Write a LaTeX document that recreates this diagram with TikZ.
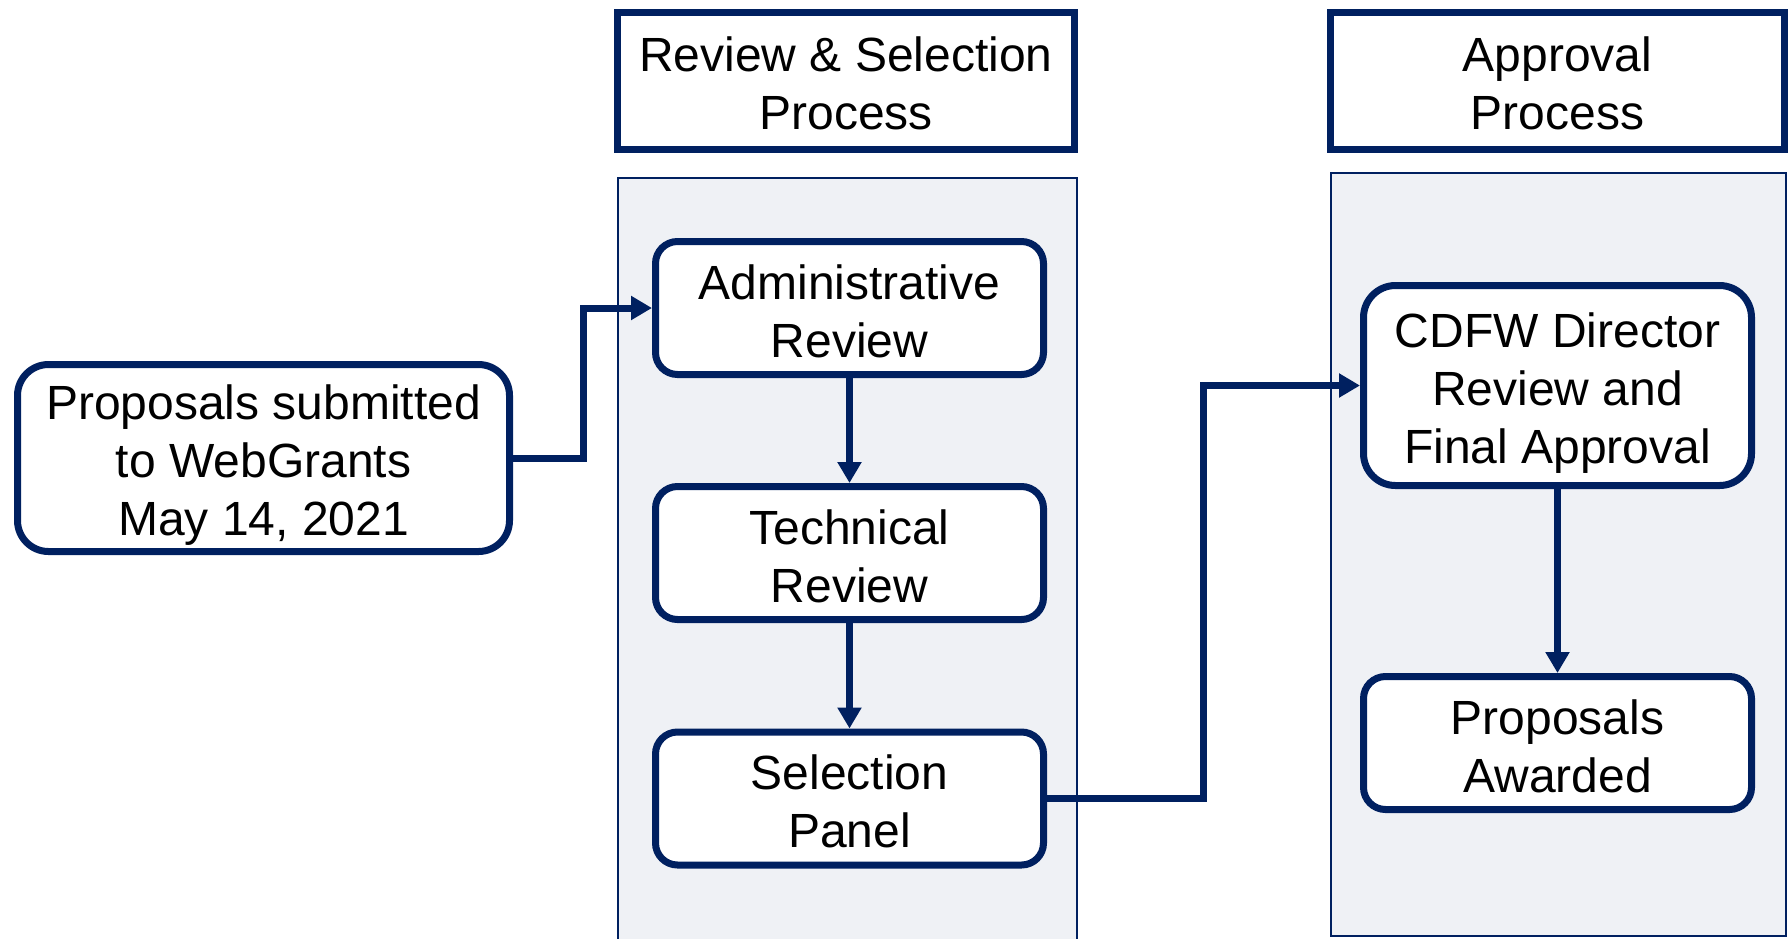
\documentclass[tikz,border=0pt]{standalone}
\usepackage{fontspec}
\setmainfont{Liberation Sans}
\usetikzlibrary{arrows.meta}
\definecolor{navy}{RGB}{0,32,96}
\definecolor{lanefill}{RGB}{239,241,245}
\newcommand{\tstrutx}[1]{\rule{0pt}{#1}}
\begin{document}
\begin{tikzpicture}[x=1pt,y=-1pt,
  every node/.style={font=\fontsize{48}{58}\selectfont, align=center, inner sep=0pt},
  hdr/.style={draw=navy, line width=7pt, fill=white, rectangle},
  lane/.style={draw=navy, line width=2.2pt, fill=lanefill},
  stepbox/.style={draw=navy, line width=7pt, fill=white, rectangle, rounded corners=22pt,
                  minimum width=388pt, minimum height=133pt},
  conn/.style={draw=navy, line width=7pt, -{Triangle[length=21pt,width=23pt]}}
]
\useasboundingbox (0,0) rectangle (1790,938);
% lanes
\draw[lane] (618,178) -- (618,960) -- (1077,960) -- (1077,178) -- cycle;
\draw[lane] (1331,173) rectangle (1786,936);
% headers
\node[hdr, minimum width=457pt, minimum height=137pt] (h1) at (846,81) {\tstrutx{39pt}Review \& Selection\\Process};
\node[hdr, minimum width=454pt, minimum height=137pt] (h2) at (1557.5,81) {\tstrutx{39pt}Approval\\Process};
% nodes
\node[stepbox, minimum width=492pt, minimum height=187pt, rounded corners=31pt] (prop) at (263.5,458) {\tstrutx{49pt}Proposals submitted\\to WebGrants\\May 14, 2021};
\node[stepbox] (admin) at (849.5,308) {\tstrutx{41pt}Administrative\\Review};
\node[stepbox] (tech) at (849.5,553) {\tstrutx{41pt}Technical\\Review};
\node[stepbox] (sel) at (849.5,798.5) {\tstrutx{41pt}Selection\\Panel};
\node[stepbox, minimum height=200pt, rounded corners=32pt] (cdfw) at (1557.5,385.5) {\tstrutx{49pt}CDFW Director\\Review and\\Final Approval};
\node[stepbox] (award) at (1557.5,743) {\tstrutx{41pt}Proposals\\Awarded};
% connectors
\coordinate (j1) at (583,0);
\coordinate (j2) at (1203,0);
\draw[conn] (prop.east) -- (prop.east -| j1) |- (admin.west);
\draw[conn] (admin.south) -- (tech.north);
\draw[conn] (tech.south) -- (sel.north);
\draw[conn] (sel.east) -- (sel.east -| j2) |- (cdfw.west);
\draw[conn] (cdfw.south) -- (award.north);
\end{tikzpicture}
\end{document}
